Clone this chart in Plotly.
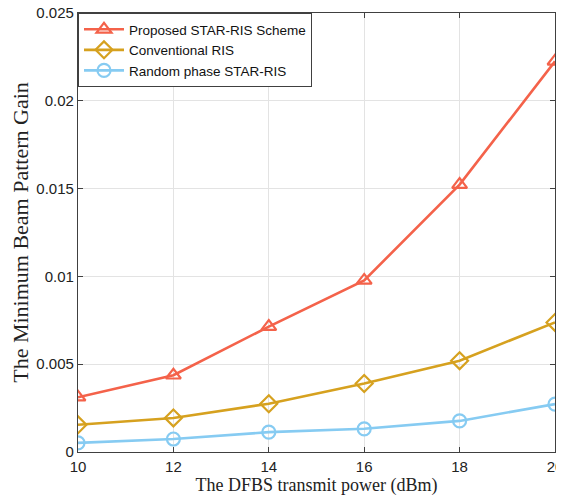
import plotly.graph_objects as go

power_dbm = [10, 12, 14, 16, 18, 20]
proposed = [0.00312, 0.00437, 0.00714, 0.00977, 0.01523, 0.02225]
conventional = [0.00155, 0.00194, 0.00275, 0.00390, 0.00520, 0.00738]
random_phase = [0.00052, 0.00074, 0.00113, 0.00132, 0.00177, 0.00273]
y_ticks = [0, 0.005, 0.01, 0.015, 0.02, 0.025]
y_tick_text = ["0", "0.005", "0.01", "0.015", "0.02", "0.025"]

fig = go.Figure()
series = [
    ("Proposed STAR-RIS Scheme", proposed, "#F4624A", "triangle-up-open"),
    ("Conventional RIS", conventional, "#D6A11F", "diamond-open"),
    ("Random phase STAR-RIS", random_phase, "#86CBF2", "circle-open"),
]
for name, vals, color, sym in series:
    fig.add_trace(go.Scatter(
        x=power_dbm, y=vals, name=name, mode="lines+markers",
        line=dict(color=color, width=2.6),
        marker=dict(symbol=sym, size=13, color=color, line=dict(width=2.2, color=color)),
    ))

axis_common = dict(
    showline=True, linecolor="#404040", linewidth=1.2, mirror="ticks",
    ticks="inside", ticklen=5, tickcolor="#404040",
    showgrid=True, gridcolor="#E3E3E3", gridwidth=1, zeroline=False,
    automargin=False, ticklabeloverflow="allow",
    tickfont=dict(family="Liberation Sans, Arial", size=15, color="#222222"),
)
fig.update_xaxes(range=[10, 20], tickvals=power_dbm, ticklabelstandoff=1,
                 title=dict(text="The DFBS transmit power (dBm)", standoff=14,
                            font=dict(family="Liberation Serif, Times New Roman", size=18, color="#222222")),
                 **axis_common)
fig.update_yaxes(range=[0, 0.025], tickvals=y_ticks, ticktext=y_tick_text,
                 title=dict(text="The Minimum Beam Pattern Gain", standoff=7,
                            font=dict(family="Liberation Serif, Times New Roman", size=22, color="#222222")),
                 **axis_common)
# the page body adds an 8px margin; offset the margins so the plot lands where the reference has it
fig.update_layout(
    width=556, height=488,
    margin=dict(l=70, r=9, t=5, b=44),
    plot_bgcolor="white", paper_bgcolor="white",
    legend=dict(x=0.0, y=1.0, xanchor="left", yanchor="top",
                bgcolor="white", bordercolor="#404040", borderwidth=1,
                font=dict(family="Liberation Sans, Arial", size=13.5, color="#111111"),
                tracegroupgap=0, itemwidth=40),
    showlegend=True,
)
fig.write_html("out.html")
